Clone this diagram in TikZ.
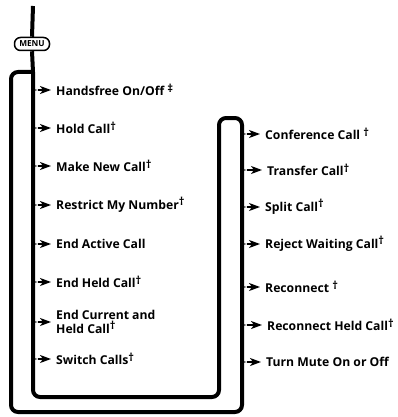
\documentclass[tikz,border=0pt]{standalone}
\usepackage{fontspec}
\setmainfont{Open Sans}
\usetikzlibrary{arrows.meta}
\newcommand{\dg}{\raisebox{0.55ex}{\fontsize{11}{11}\selectfont †}}
\newcommand{\ddg}{\raisebox{0.55ex}{\fontsize{11}{11}\selectfont ‡}}
\begin{document}
\begin{tikzpicture}[x=1pt,y=-1pt,
  loopline/.style={line width=4pt, line join=round},
  item/.style={anchor=west, inner sep=0pt, font=\fontsize{12.2}{14}\selectfont\bfseries, align=left},
  tip/.style={line width=1.6pt, shorten >=5pt, -{Stealth[length=11pt,width=8pt,inset=3pt]}}
]
\useasboundingbox (0,0) rectangle (397,417);
% stem and menu key
\node[draw, line width=1.5pt, rounded corners=6pt, minimum width=35pt, minimum height=13pt, inner sep=0pt, font=\fontsize{8.3}{8.3}\selectfont\bfseries] (menu) at (32,44) {MENU};
\coordinate (top) at (33,6);
\draw[line width=4pt] (top) -- (menu.north);
\coordinate (j) at (33,72);
\draw[line width=4pt] (menu.south) -- (j);
% loop
\draw[loopline, rounded corners=7pt] (j) -- (11,72) -- (11,412) -- (242,412) -- (242,118) -- (219,118) -- (219,397) -- (33,397) -- (j);
% left items
\foreach \n/\y/\t in {a/90/{Handsfree On/Off \ddg},b/128/{Hold Call\dg},c/166/{Make New Call\dg},d/205/{Restrict My Number\dg},e/244/{End Active Call},f/282/{End Held Call\dg},g/322/{End Current and\\Held Call\dg},h/359/{Switch Calls\dg}}{
  \node[item] (\n) at (56,\y) {\t};
  \coordinate (c\n) at (38,\y);
  \fill (32,\y-9) .. controls (33,\y-2) and (34,\y) .. (c\n) .. controls (34,\y) and (33,\y+2) .. (32,\y+9) -- cycle;
  \draw[tip] (c\n) -- (\n.west |- c\n);
}
% right items
\foreach \n/\y/\x/\t in {p/134/265/{Conference Call \dg},q/170/267/{Transfer Call\dg},r/207/265/{Split Call\dg},s/244/265/{Reject Waiting Call\dg},t/287/265/{Reconnect \dg},u/325/267/{Reconnect Held Call\dg},v/362/266/{Turn Mute On or Off}}{
  \node[item] (\n) at (\x,\y) {\t};
  \coordinate (c\n) at (247,\y);
  \fill (241,\y-9) .. controls (242,\y-2) and (243,\y) .. (c\n) .. controls (243,\y) and (242,\y+2) .. (241,\y+9) -- cycle;
  \draw[tip] (c\n) -- (\n.west |- c\n);
}
\end{tikzpicture}
\end{document}
